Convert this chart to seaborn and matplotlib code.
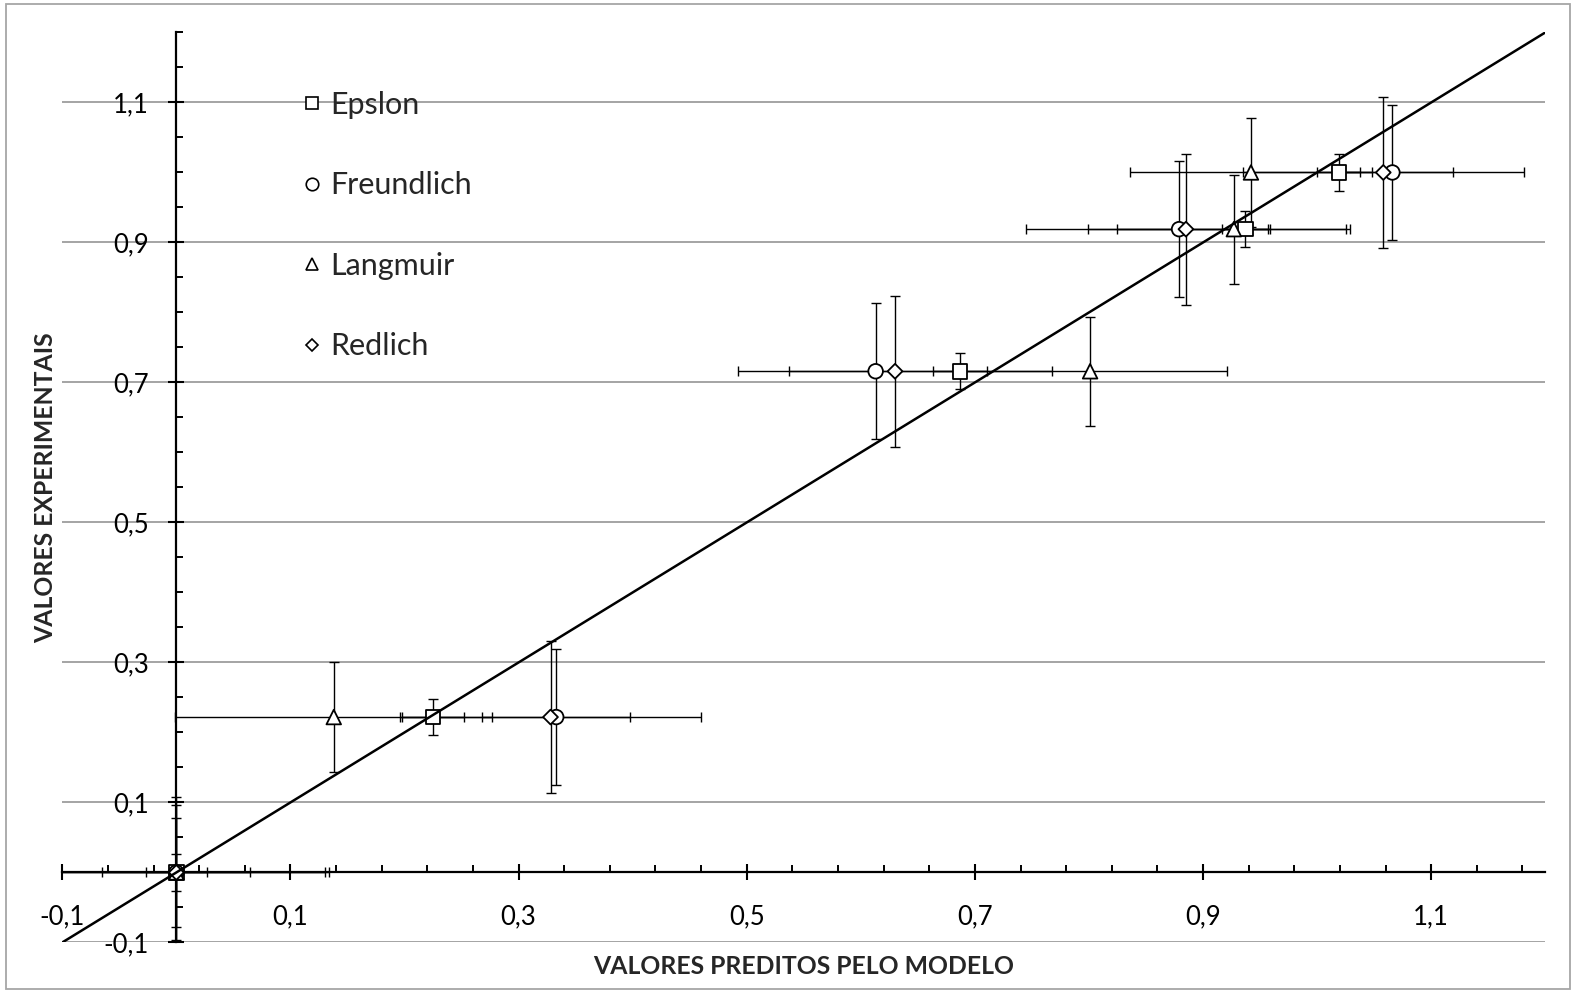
import numpy as np
import pandas as pd
import matplotlib
matplotlib.use("Agg")
import matplotlib.pyplot as plt
import seaborn as sns
from matplotlib.lines import Line2D
from matplotlib.markers import MarkerStyle
from matplotlib.patches import Rectangle
from matplotlib.transforms import Affine2D

# ---------------- data ----------------
series = ["Epslon", "Freundlich", "Langmuir", "Redlich"]
y_exp = [0.0, 0.222, 0.716, 0.919, 1.000]

epslon_x = [0.0, 0.225, 0.687, 0.937, 1.019]
freundlich_x = [0.0, 0.333, 0.613, 0.879, 1.066]
langmuir_x = [0.0, 0.138, 0.801, 0.927, 0.942]
redlich_x = [0.0, 0.328, 0.630, 0.885, 1.058]

epslon_xerr = [0.027, 0.027, 0.024, 0.020, 0.019]
freundlich_xerr = [0.065, 0.065, 0.076, 0.080, 0.053]
langmuir_xerr = [0.134, 0.139, 0.120, 0.102, 0.106]
redlich_xerr = [0.130, 0.132, 0.138, 0.140, 0.123]

epslon_yerr = [0.026] * 5
freundlich_yerr = [0.097] * 5
langmuir_yerr = [0.078] * 5
redlich_yerr = [0.108] * 5

ticks_major = [-0.1, 0.1, 0.3, 0.5, 0.7, 0.9, 1.1]
tick_labels = ["-0,1", "0,1", "0,3", "0,5", "0,7", "0,9", "1,1"]
ref_line = [-0.1, 1.2]

x_vals = {"Epslon": epslon_x, "Freundlich": freundlich_x,
          "Langmuir": langmuir_x, "Redlich": redlich_x}
x_errs = {"Epslon": epslon_xerr, "Freundlich": freundlich_xerr,
          "Langmuir": langmuir_xerr, "Redlich": redlich_xerr}
y_errs = {"Epslon": epslon_yerr, "Freundlich": freundlich_yerr,
          "Langmuir": langmuir_yerr, "Redlich": redlich_yerr}

df = pd.concat([
    pd.DataFrame({"modelo": s, "pred": x_vals[s], "exp": y_exp,
                  "xerr": x_errs[s], "yerr": y_errs[s]})
    for s in series
], ignore_index=True)

# ---------------- style ----------------
sns.set_style("white")
plt.rcParams["font.family"] = ["Lato", "DejaVu Sans"]

diamond = MarkerStyle("D", transform=Affine2D().scale(0.72))
markers = {"Epslon": "s", "Freundlich": "o", "Langmuir": "^", "Redlich": diamond}

fig = plt.figure(figsize=(15.76, 9.93), dpi=100)
ax = fig.add_axes([0.0395, 0.0509, 0.941, 0.9164])

ax.set_xlim(-0.1, 1.2)
ax.set_ylim(-0.1, 1.2)

# gridlines
ax.set_axisbelow(True)
ax.yaxis.grid(True, color="#8c8c8c", linewidth=1.1)
ax.xaxis.grid(False)

# error bars
for s in series:
    sub = df[df["modelo"] == s]
    ax.errorbar(sub["pred"], sub["exp"], xerr=sub["xerr"], yerr=sub["yerr"],
                fmt="none", ecolor="black", elinewidth=1.0, capsize=3.8,
                capthick=1.0, zorder=2)

# markers
sns.scatterplot(data=df, x="pred", y="exp", style="modelo", markers=markers,
                color="white", edgecolor="black", linewidth=1.3, s=110,
                legend=False, ax=ax, zorder=3)

# y = x line
sns.lineplot(x=ref_line, y=ref_line, color="black", linewidth=1.8, ax=ax, zorder=4)

# spines crossing at zero
for side in ["top", "right"]:
    ax.spines[side].set_visible(False)
ax.spines["left"].set_position(("data", 0))
ax.spines["bottom"].set_position(("data", 0))
for side in ["left", "bottom"]:
    ax.spines[side].set_linewidth(1.6)
    ax.spines[side].set_color("black")

ax.set_xticks(ticks_major)
ax.set_xticklabels(tick_labels)
ax.set_yticks(ticks_major)
ax.set_yticklabels(tick_labels)
ax.set_xticks(np.arange(-0.1, 1.2001, 0.04), minor=True)
ax.set_yticks(np.arange(-0.1, 1.2001, 0.05), minor=True)
ax.tick_params(which="major", direction="inout", length=12, width=1.5,
               color="black", labelsize=18.5, labelcolor="black")
ax.tick_params(axis="x", which="major", pad=17)
ax.tick_params(axis="y", which="major", pad=14)
ax.tick_params(which="minor", direction="in", length=5, width=1.4, color="black")
ax.tick_params(bottom=True, left=True, which="both")

ax.set_xlabel("VALORES PREDITOS PELO MODELO", fontsize=17.8, fontweight="bold")
ax.set_ylabel("VALORES EXPERIMENTAIS", fontsize=17.8, fontweight="bold")
ax.xaxis.label.set_va("center")
ax.yaxis.label.set_va("center")
ax.xaxis.set_label_coords(0.5, -0.026)
ax.yaxis.set_label_coords(-0.011, 0.5)

# legend
handles = [Line2D([], [], linestyle="none", marker=markers[s], markersize=9,
                  markerfacecolor="white", markeredgecolor="black",
                  markeredgewidth=1.2) for s in series]
ax.legend(handles, series, loc="upper left", bbox_to_anchor=(0.162, 0.936),
          frameon=False, fontsize=22, handlelength=0.6, handletextpad=0.3,
          labelspacing=1.72, borderaxespad=0, borderpad=0)

# chart border
fig.patches.append(Rectangle((0.004, 0.004), 0.992, 0.992, transform=fig.transFigure,
                             fill=False, edgecolor="#a6a6a6", linewidth=1.3))

fig.savefig("out.png", dpi=100)
